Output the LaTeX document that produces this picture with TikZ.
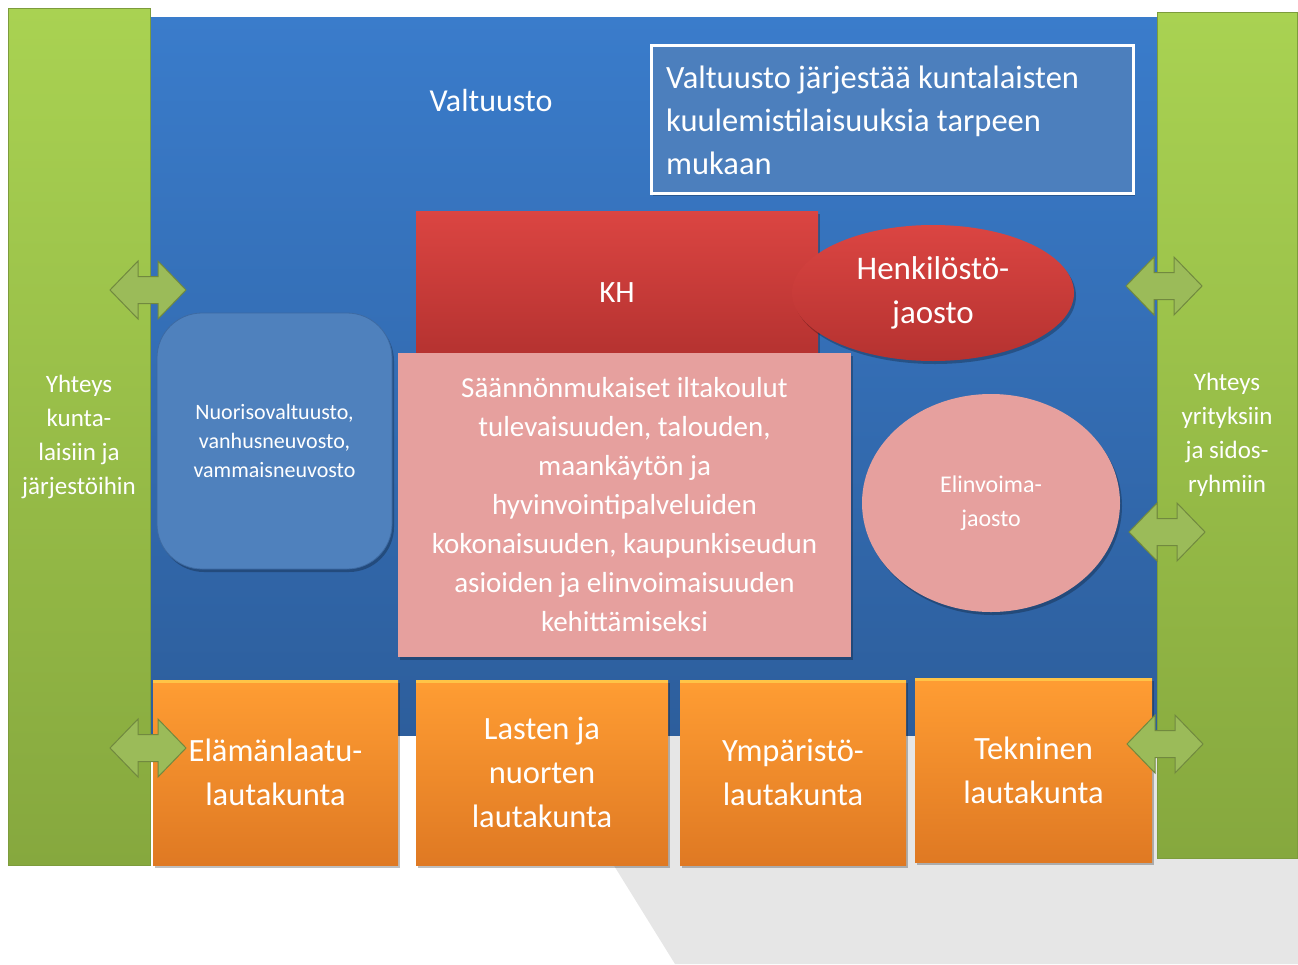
\documentclass[tikz,border=0pt]{standalone}
\usepackage{fontspec}
\setmainfont{Carlito}
\usetikzlibrary{shapes.geometric,shadows}
\definecolor{bgtop}{HTML}{3A7CCB}
\definecolor{bgbot}{HTML}{2D5E9C}
\definecolor{grtop}{HTML}{A9D252}
\definecolor{grbot}{HTML}{86A83E}
\definecolor{grline}{HTML}{7D9C3C}
\definecolor{tbfill}{HTML}{4C7FBD}
\definecolor{redtop}{HTML}{DB4542}
\definecolor{redbot}{HTML}{B53230}
\definecolor{pinkfill}{HTML}{E6A09E}
\definecolor{nuofill}{HTML}{4F81BD}
\definecolor{nuoline}{HTML}{3D6AA2}
\definecolor{ortop}{HTML}{FF9D33}
\definecolor{orbot}{HTML}{DF7923}
\definecolor{orhi}{HTML}{FFC447}
\definecolor{arfill}{HTML}{9BBB59}
\definecolor{arline}{HTML}{71893F}
\definecolor{shadowgray}{HTML}{E6E6E6}
\tikzset{
  sh/.style={drop shadow={shadow xshift=2pt,shadow yshift=-3pt,opacity=0.25,fill=black}},
  greenbar/.style={rectangle,inner sep=0pt,top color=grtop,bottom color=grbot,draw=grline,line width=0.6pt,
     text=white,align=center,font=\fontsize{25}{34}\selectfont},
  txtbox/.style={rectangle,inner sep=0pt,fill=tbfill,draw=white,line width=3pt,sh},
  redbox/.style={rectangle,inner sep=0pt,top color=redtop,bottom color=redbot,sh},
  redell/.style={ellipse,inner sep=0pt,top color=redtop,bottom color=redbot,sh,
     text=white,align=center,font=\fontsize{33}{44}\selectfont},
  pinkbox/.style={rectangle,inner sep=0pt,fill=pinkfill,sh,text=white,align=center,font=\fontsize{29}{39}\selectfont},
  pinkell/.style={ellipse,inner sep=0pt,fill=pinkfill,sh,text=white,align=center,font=\fontsize{24}{34}\selectfont},
  nuobox/.style={rectangle,rounded corners=45pt,inner sep=0pt,fill=nuofill,draw=nuoline,line width=0.8pt,sh,
     text=white,align=center,font=\fontsize{22}{29}\selectfont},
  orbox/.style={rectangle,inner sep=0pt,top color=ortop,bottom color=orbot,sh,text=white,align=center,
     font=\fontsize{32.5}{44}\selectfont,
     path picture={\fill[orhi] (path picture bounding box.north west) rectangle ([yshift=-3pt]path picture bounding box.north east);}},
  lbl/.style={text=white,inner sep=0pt},
  arrowsty/.style={fill=arfill,draw=arline,line width=1pt,line join=miter},
  dblarr/.pic={\path[arrowsty] (-38,0) -- (-10,-29) -- (-10,-13.5) -- (10,-13.5) -- (10,-29) -- (38,0)
      -- (10,29) -- (10,13.5) -- (-10,13.5) -- (-10,29) -- cycle;}
}
\begin{document}
\begin{tikzpicture}[x=1pt,y=-1pt]
\useasboundingbox (0,0) rectangle (1298,964);
% floor shadow
\fill[shadowgray] (533,735) -- (1298,735) -- (1298,964) -- (675,964) -- cycle;
% blue council background
\node[rectangle,inner sep=0pt,minimum width=1015,minimum height=718,top color=bgtop,bottom color=bgbot] (bg) at (657.5,376) {};
\node[lbl,font=\fontsize{32}{38}\selectfont] (valt) at (491,101) {Valtuusto};
% side bars
\node[greenbar,minimum width=142,minimum height=857] (gl) at (79,436.5) {Yhteys\\kunta-\\laisiin ja\\järjestöihin};
\node[greenbar,minimum width=140,minimum height=846] (gr) at (1227,435) {Yhteys\\yrityksiin\\ja sidos-\\ryhmiin};
% text box
\node[txtbox,minimum width=482,minimum height=148] (tb) at (892,119) {};
\node[lbl,anchor=west,align=left,font=\fontsize{32.5}{43}\selectfont] (tbt) at (666,120)
  {Valtuusto järjestää kuntalaisten\\kuulemistilaisuuksia tarpeen\\mukaan};
% KH
\node[redbox,minimum width=402,minimum height=144] (kh) at (617,283) {};
\node[lbl,font=\fontsize{31}{38}\selectfont] (kht) at (617,293) {KH};
% evening schools
\node[pinkbox,minimum width=453,minimum height=304] (ilta) at (624.5,505)
  {Säännönmukaiset iltakoulut\\tulevaisuuden, talouden,\\maankäytön ja\\hyvinvointipalveluiden\\kokonaisuuden, kaupunkiseudun\\asioiden ja elinvoimaisuuden\\kehittämiseksi};
% Henkilöstöjaosto
\node[redell,minimum width=282,minimum height=136] (henk) at (933,293) {Henkilöstö-\\jaosto};
% Nuorisovaltuusto
\node[nuobox,minimum width=235,minimum height=256] (nuo) at (274.5,441) {Nuorisovaltuusto,\\vanhusneuvosto,\\vammaisneuvosto};
% Elinvoimajaosto
\node[pinkell,minimum width=258,minimum height=218] (elin) at (991,503) {Elinvoima-\\jaosto};
% boards
\node[orbox,minimum width=245,minimum height=185] (o1) at (275.5,772.5) {Elämänlaatu-\\lautakunta};
\node[orbox,minimum width=252,minimum height=185] (o2) at (542,772.5) {Lasten ja\\nuorten\\lautakunta};
\node[orbox,minimum width=226,minimum height=185] (o3) at (793,772.5) {Ympäristö-\\lautakunta};
\node[orbox,minimum width=237,minimum height=184] (o4) at (1033.5,770) {Tekninen\\lautakunta};
% double arrows
\pic (a1) at (148,290) {dblarr};
\pic (a2) at (1164,286) {dblarr};
\pic (a3) at (1167,532) {dblarr};
\pic (a4) at (148,748) {dblarr};
\pic (a5) at (1165,744) {dblarr};
\end{tikzpicture}
\end{document}
